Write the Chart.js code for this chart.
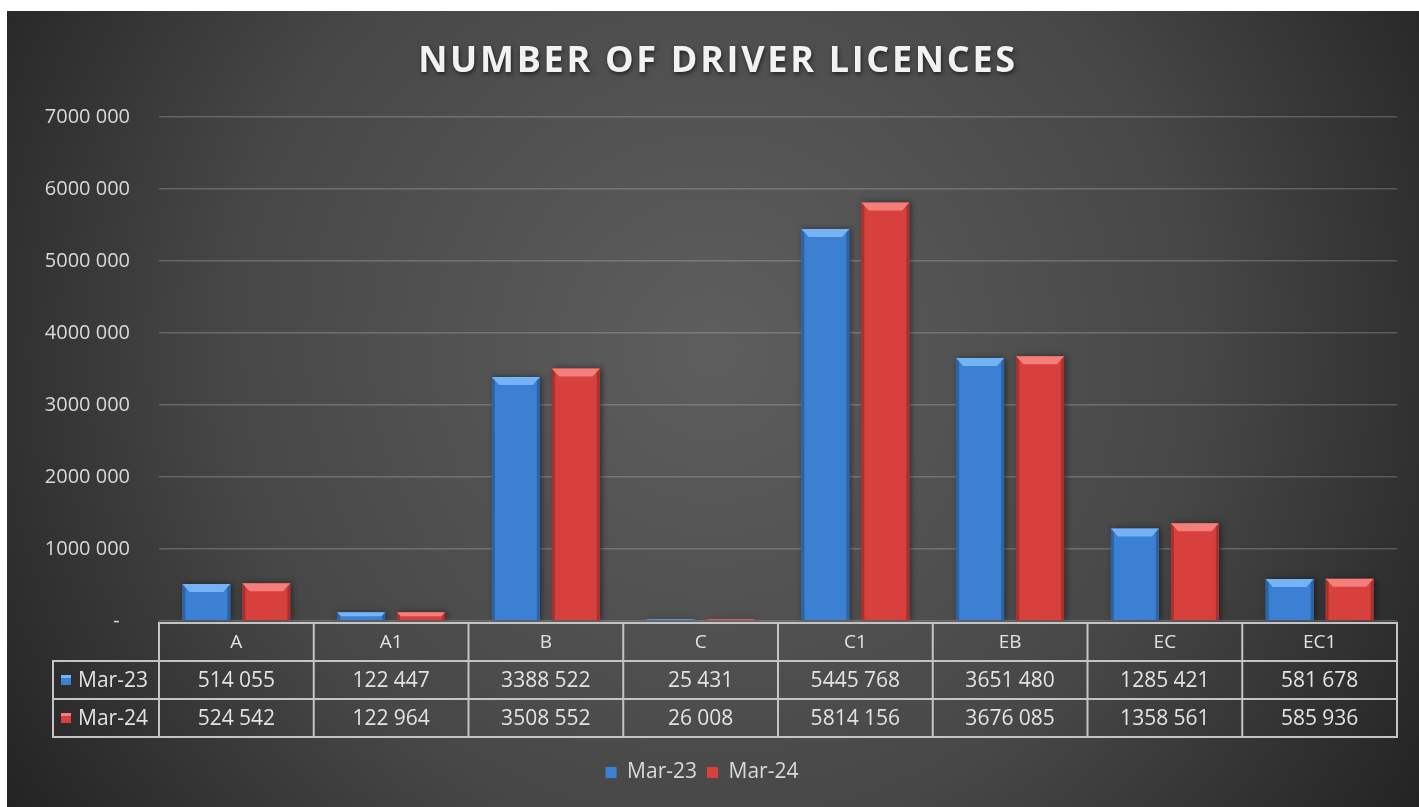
<!DOCTYPE html>
<html>
<head>
<meta charset="utf-8">
<script src="https://cdn.jsdelivr.net/npm/chart.js@4"></script>
<style>
  html, body { margin: 0; padding: 0; background: #fff; }
  #wrap { width: 1419px; height: 807px; }
</style>
</head>
<body>
<div id="wrap"><canvas id="myChart"></canvas></div>
<script>
const titleText = 'NUMBER OF DRIVER LICENCES';
const categories = ['A', 'A1', 'B', 'C', 'C1', 'EB', 'EC', 'EC1'];
const seriesNames = ['Mar-23', 'Mar-24'];
const mar23 = [514055, 122447, 3388522, 25431, 5445768, 3651480, 1285421, 581678];
const mar24 = [524542, 122964, 3508552, 26008, 5814156, 3676085, 1358561, 585936];
const yMax = 7000000;
const yStep = 1000000;

const FONT = "'Open Sans', 'DejaVu Sans', sans-serif";
// face, top bevel, side bevel
const blue = ['#3c80d3', '#74b4f6', '#2d62a3'];
const red = ['#d7403c', '#f47e7a', '#a53230'];

function fmt(v) {
    const s = String(Math.round(v));
    if (s.length <= 3) return s;
    return s.slice(0, -3) + ' ' + s.slice(-3);
}

//background + title
const backdrop = {
    id: 'backdrop',
    beforeDraw(chart) {
        const c = chart.ctx;
        c.save();
        c.fillStyle = '#ffffff';
        c.fillRect(0, 0, chart.width, chart.height);
        const g = c.createRadialGradient(713, 350, 0, 713, 350, 880);
        g.addColorStop(0, '#5e5e5e');
        g.addColorStop(0.55, '#474747');
        g.addColorStop(1, '#1f1f1f');
        c.fillStyle = g;
        c.fillRect(7, 11, chart.width - 7, chart.height - 11);
        c.restore();
    },
    afterDraw(chart) {
        const c = chart.ctx;
        c.save();
        c.font = 'bold 36px ' + FONT;
        c.letterSpacing = '2.7px';
        c.textAlign = 'center';
        c.textBaseline = 'middle';
        c.shadowColor = 'rgba(0,0,0,0.6)';
        c.shadowBlur = 4;
        c.shadowOffsetX = 1;
        c.shadowOffsetY = 2;
        c.fillStyle = '#f2f2f2';
        c.fillText(titleText, 718, 62);
        c.restore();
    }
};

//bevel on the bars
const bevel = {
    id: 'bevel',
    beforeDatasetDraw(chart) {
        const c = chart.ctx;
        c.shadowColor = 'rgba(0,0,0,0.45)';
        c.shadowBlur = 6;
        c.shadowOffsetX = 2;
        c.shadowOffsetY = 0;
    },
    afterDatasetDraw(chart, args) {
        const c = chart.ctx;
        c.shadowColor = 'rgba(0,0,0,0)';
        c.shadowBlur = 0;
        c.shadowOffsetX = 0;
        const pal = args.index === 0 ? blue : red;
        const area = chart.chartArea;
        c.save();
        c.beginPath();
        c.rect(area.left, area.top, area.right - area.left, area.bottom - area.top);
        c.clip();
        args.meta.data.forEach(function(el) {
            const p = el.getProps(['x', 'y', 'base', 'width'], true);
            const l = p.x - p.width / 2, r = p.x + p.width / 2;
            const t = p.y, b = p.base;
            const h = b - t;
            const bt = Math.min(8, h / 2);
            const bs = 3;
            // sides
            const sg = c.createLinearGradient(l, 0, r, 0);
            sg.addColorStop(0, pal[2]);
            sg.addColorStop(0.5, pal[0]);
            sg.addColorStop(1, pal[2]);
            c.fillStyle = pal[2];
            c.fillRect(l, t, bs, h);
            c.fillRect(r - bs, t, bs, h);
            // top
            c.fillStyle = pal[1];
            c.beginPath();
            c.moveTo(l, t); c.lineTo(r, t); c.lineTo(r - bt * 0.9, t + bt); c.lineTo(l + bt * 0.9, t + bt);
            c.closePath(); c.fill();
        });
        c.restore();
    }
};

//data table under the plot
const dataTable = {
    id: 'dataTable',
    afterDraw(chart) {
        const c = chart.ctx;
        const x = chart.scales.x;
        const area = chart.chartArea;
        const top = area.bottom + 2;
        const rowH = 38;
        const colW = (area.right - area.left) / categories.length;
        const rows = [mar23, mar24];
        c.save();
        c.strokeStyle = '#c4c4c4';
        c.lineWidth = 2;
        c.strokeRect(area.left, top, area.right - area.left, rowH * 3);
        c.strokeRect(53, top + rowH, area.left - 53, rowH * 2);
        c.beginPath();
        for (let i = 1; i < categories.length; i++) {
            const xx = area.left + colW * i;
            c.moveTo(xx, top); c.lineTo(xx, top + rowH * 3);
        }
        c.moveTo(53, top + rowH); c.lineTo(area.right, top + rowH);
        c.moveTo(53, top + rowH * 2); c.lineTo(area.right, top + rowH * 2);
        c.stroke();

        c.fillStyle = '#e2e2e2';
        c.textAlign = 'center';
        c.textBaseline = 'middle';
        c.font = '19px ' + FONT;
        categories.forEach(function(cat, i) {
            c.fillText(cat, x.getPixelForValue(i), top + rowH / 2 + 1);
        });
        c.font = '21px ' + FONT;
        rows.forEach(function(vals, r) {
            vals.forEach(function(v, i) {
                c.fillText(fmt(v), x.getPixelForValue(i), top + rowH * (r + 1.5) + 1);
            });
        });
        // row labels with key
        c.textAlign = 'left';
        seriesNames.forEach(function(name, r) {
            const cy = top + rowH * (r + 1.5);
            const pal = r === 0 ? blue : red;
            c.fillStyle = pal[0];
            c.fillRect(61, cy - 5, 10, 10);
            c.fillStyle = pal[1];
            c.fillRect(61, cy - 5, 10, 3);
            c.fillStyle = '#e2e2e2';
            c.fillText(name, 78, cy + 1);
        });
        c.restore();
    }
};

var ctx = document.getElementById('myChart').getContext('2d');
var chart = new Chart(ctx, {
    type: 'bar',
    data: {
        labels: categories,
        datasets: [{
                label: seriesNames[0],
                data: mar23,
                backgroundColor: blue[0],
                borderWidth: 0,
            },
            {
                label: seriesNames[1],
                data: mar24,
                backgroundColor: red[0],
                borderWidth: 0,
            }
        ]
    },
    options: {
        responsive: true,
        maintainAspectRatio: false,
        animation: false,
        categoryPercentage: 0.775,
        barPercentage: 0.8,
        layout: {
            padding: { top: 117, left: 7, right: 22, bottom: 14 }
        },
        plugins: {
            title: { display: false },
            tooltip: { enabled: false },
            legend: {
                position: 'bottom',
                labels: {
                    color: '#d9d9d9',
                    font: { family: FONT, size: 21 },
                    boxWidth: 11,
                    boxHeight: 11,
                    padding: 10
                }
            }
        },
        scales: {
            x: {
                grid: { display: false },
                border: { display: false },
                ticks: { display: false },
                afterFit: function(scale) { scale.height = 131; }
            },
            y: {
                min: 0,
                max: yMax,
                border: { display: false },
                grid: {
                    color: 'rgba(255,255,255,0.2)',
                    lineWidth: 1.5,
                    drawTicks: false
                },
                ticks: {
                    stepSize: yStep,
                    padding: 29,
                    color: '#d9d9d9',
                    font: { family: FONT, size: 20 },
                    callback: function(v) { return v === 0 ? '-  ' : fmt(v); }
                },
                afterFit: function(scale) { scale.width = 152; }
            }
        }
    },
    plugins: [backdrop, bevel, dataTable]
});
</script>
</body>
</html>
